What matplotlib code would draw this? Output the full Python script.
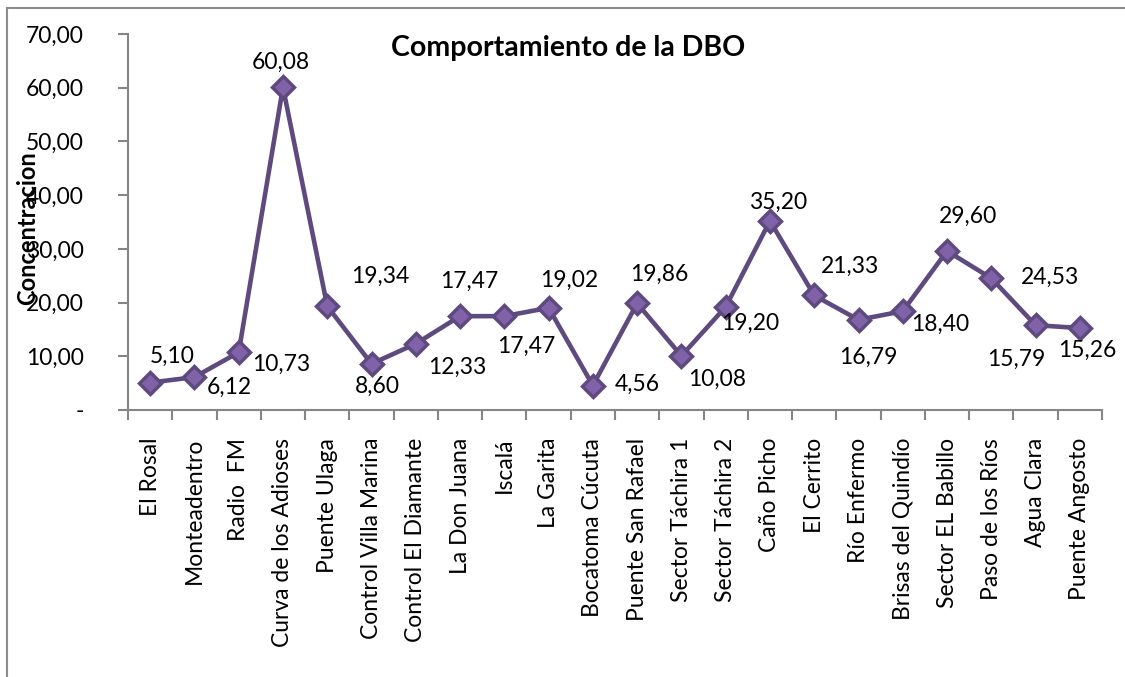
import matplotlib
matplotlib.use("Agg")
from matplotlib import pyplot as plt
from matplotlib.patches import Rectangle

plt.rcParams['font.family'] = ['Lato', 'DejaVu Sans']

# datos DBO
estaciones = ["El Rosal", "Monteadentro", "Radio  FM", "Curva de los Adioses",
              "Puente Ulaga", "Control Villa Marina", "Control El Diamante",
              "La Don Juana", "Iscalá", "La Garita", "Bocatoma Cúcuta",
              "Puente San Rafael", "Sector Táchira 1", "Sector Táchira 2",
              "Caño Picho", "El Cerrito", "Río Enfermo", "Brisas del Quindío",
              "Sector EL Babillo", "Paso de los Ríos", "Agua Clara", "Puente Angosto"]
dbo = [5.10, 6.12, 10.73, 60.08, 19.34, 8.60, 12.33, 17.47, 17.47, 19.02, 4.56,
       19.86, 10.08, 19.20, 35.20, 21.33, 16.79, 18.40, 29.60, 24.53, 15.79, 15.26]
yticks = [0, 10, 20, 30, 40, 50, 60, 70]

# posicion de las etiquetas (pixeles respecto al punto)
offs = [(22, 26), (35, -10), (42, -12), (-2, 25), (53, 30), (6, -23), (41, -24),
        (9, 35), (22, -30), (21, 27), (44, 1), (22, 29), (36, -23), (24, -16),
        (8, 19), (36, 29), (10, -38), (37, -13), (21, 35), (59, 1), (-19, -34), (7, -22)]

fig = plt.figure(figsize=(11.25, 6.77), dpi=100)
ax = fig.add_axes([128 / 1125, 1 - 410 / 677, (1102 - 128) / 1125, (410 - 34) / 677])

x = list(range(len(estaciones)))
ax.plot(x, dbo, color='#5F4A80', lw=3.3, marker='D', markersize=11.5,
        markerfacecolor='#7F62A8', markeredgecolor='#5F4A80', markeredgewidth=2.5,
        zorder=3, clip_on=False)

for i, v in enumerate(dbo):
    ax.annotate(f"{v:.2f}".replace('.', ','), (i, v), xytext=offs[i],
                textcoords='offset pixels', ha='center', va='center', fontsize=16.5)

ax.set_xlim(-0.5, len(estaciones) - 0.5)
ax.set_ylim(0, 70)
ax.set_yticks(yticks)
ax.set_yticklabels(['-' if t == 0 else f"{t:.2f}".replace('.', ',') for t in yticks],
                   fontsize=16.5)
ax.set_xticks(x)
ax.set_xticklabels(estaciones, rotation=90, fontsize=16.5)
ax.set_xticks([i - 0.5 for i in range(len(estaciones) + 1)], minor=True)
ax.tick_params(axis='x', which='major', length=0, pad=20)
ax.tick_params(axis='x', which='minor', length=7, width=1.5, color='#868686')
ax.tick_params(axis='y', length=7, width=1.5, color='#868686', pad=25)

for s in ['top', 'right']:
    ax.spines[s].set_visible(False)
for s in ['left', 'bottom']:
    ax.spines[s].set_color('#868686')
    ax.spines[s].set_linewidth(1.5)

fig.text(0.505, 1 - 48 / 677, "Comportamiento de la DBO",
         ha='center', va='center', fontsize=20.5, fontweight='bold')
# en el original el titulo del eje se monta sobre las etiquetas
fig.text(28 / 1125, 1 - 228 / 677, "Concentracion", rotation=90, ha='center',
         va='center', fontsize=17, fontweight='bold')

fig.patches.append(Rectangle((7 / 1125, -0.05), 1.1, 1 - 8 / 677 + 0.05,
                             transform=fig.transFigure, fill=False,
                             edgecolor='#8C8C8C', lw=1.5))

fig.savefig("out.png", dpi=100)
